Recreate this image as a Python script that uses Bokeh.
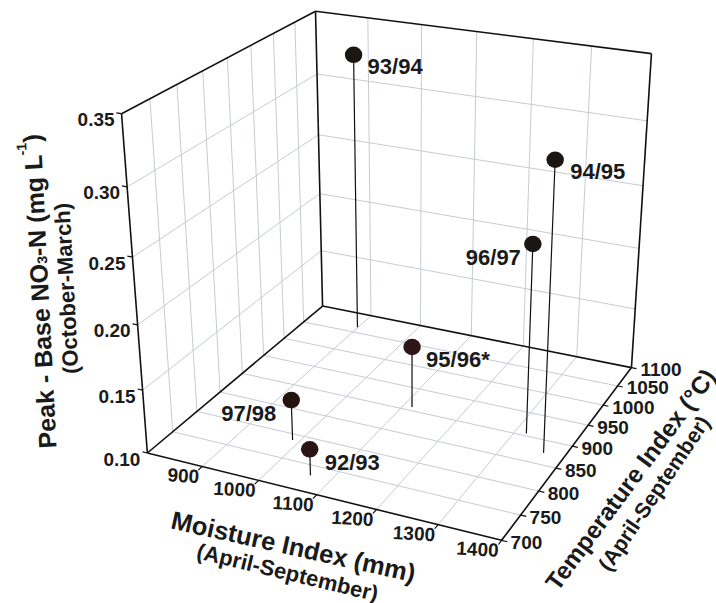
import math
import numpy as np
from bokeh.plotting import figure
from bokeh.models import Range1d
from bokeh.core.properties import value
from bokeh.embed import file_html
from bokeh.resources import INLINE

# ---- data ----
labels = ["92/93", "93/94", "94/95", "95/96*", "96/97", "97/98"]
moisture = [1065, 899, 1366, 1115, 1319, 988]
temperature = [731, 1064, 874, 908, 905, 788]
nitrate = [0.1206, 0.3276, 0.3186, 0.1495, 0.2476, 0.1323]

moisture_ticks = [800, 900, 1000, 1100, 1200, 1300, 1400]
temperature_ticks = [700, 750, 800, 850, 900, 950, 1000, 1050, 1100]
nitrate_ticks = [0.10, 0.15, 0.20, 0.25, 0.30, 0.35]

X0, X1 = 800, 1400
Y0, Y1 = 700, 1100
Z0, Z1 = 0.10, 0.35

# ---- camera: fitted from where the box corners sit in the page ----
calibration = [
    ((X0, Y0, Z0), (147, 453)), ((X1, Y0, Z0), (501, 539.5)),
    ((X1, Y1, Z0), (631, 367.5)), ((X0, Y1, Z0), (322, 305)),
    ((X0, Y0, Z1), (121, 113)), ((X0, Y1, Z1), (315, 11)),
    ((X1, Y1, Z1), (651, 53)),
]


def norm(x, y, z):
    return (np.asarray(x, float) - X0) / (X1 - X0), (np.asarray(y, float) - Y0) / (Y1 - Y0), (np.asarray(z, float) - Z0) / (Z1 - Z0)


A, B = [], []
for (w, (px, py)) in calibration:
    u, v, t = [float(c) for c in norm(*w)]
    A.append([u, v, t, 1, 0, 0, 0, 0, -px * u, -px * v, -px * t]); B.append(px)
    A.append([0, 0, 0, 0, u, v, t, 1, -py * u, -py * v, -py * t]); B.append(py)
m = np.linalg.lstsq(np.array(A), np.array(B), rcond=None)[0]


def project(x, y, z):
    u, v, t = norm(x, y, z)
    d = m[8] * u + m[9] * v + m[10] * t + 1
    return (m[0] * u + m[1] * v + m[2] * t + m[3]) / d, (m[4] * u + m[5] * v + m[6] * t + m[7]) / d


p = figure(width=716, height=603, x_range=Range1d(0, 716), y_range=Range1d(603, 0),
           x_axis_type=None, y_axis_type=None, output_backend="svg", toolbar_location=None,
           min_border=0, outline_line_color=None, background_fill_color="white")
p.grid.visible = False

FONT = value("Liberation Sans")
GRID = "#c6cad3"


def seg(a, b, color, width, dash="solid"):
    xs0, ys0 = project(*zip(*a))
    xs1, ys1 = project(*zip(*b))
    p.segment(xs0, ys0, xs1, ys1, line_color=color, line_width=width, line_dash=dash)


# ---- grid: floor, left wall, back wall ----
inner_m = moisture_ticks[1:-1]
inner_t = temperature_ticks[1:-1]
inner_n = nitrate_ticks[1:-1]
seg([(a, Y0, Z0) for a in inner_m], [(a, Y1, Z0) for a in inner_m], GRID, 1)
seg([(X0, a, Z0) for a in inner_t], [(X1, a, Z0) for a in inner_t], GRID, 1)
seg([(X0, a, Z0) for a in inner_t], [(X0, a, Z1) for a in inner_t], GRID, 1)
seg([(X0, Y0, a) for a in inner_n], [(X0, Y1, a) for a in inner_n], GRID, 1)
seg([(a, Y1, Z0) for a in inner_m], [(a, Y1, Z1) for a in inner_m], GRID, 1)
seg([(X0, Y1, a) for a in inner_n], [(X1, Y1, a) for a in inner_n], GRID, 1)

# ---- box edges ----
edges = [
    ((X0, Y0, Z0), (X0, Y0, Z1)), ((X0, Y0, Z1), (X0, Y1, Z1)), ((X0, Y1, Z1), (X0, Y1, Z0)),
    ((X0, Y1, Z1), (X1, Y1, Z1)), ((X1, Y1, Z1), (X1, Y1, Z0)), ((X0, Y0, Z0), (X0, Y1, Z0)),
    ((X0, Y1, Z0), (X1, Y1, Z0)), ((X0, Y0, Z0), (X1, Y0, Z0)), ((X1, Y0, Z0), (X1, Y1, Z0)),
]
seg([e[0] for e in edges], [e[1] for e in edges], "#111111", 1.6)

# ---- tick marks ----
seg([(a, Y0, Z0) for a in moisture_ticks[1:]], [(a, Y0 - 8, Z0) for a in moisture_ticks[1:]], "#111111", 1.2)
seg([(X1, a, Z0) for a in temperature_ticks], [(X1 + 9, a, Z0) for a in temperature_ticks], "#111111", 1.2)
seg([(X0, Y0, a) for a in nitrate_ticks], [(X0 - 9, Y0, a) for a in nitrate_ticks], "#111111", 1.2)

# ---- tick labels ----
tx, ty = project(moisture_ticks[1:], [Y0] * 6, [Z0] * 6)
p.text(tx, ty, text=[str(a) for a in moisture_ticks[1:]], x_offset=-3, y_offset=10, angle=math.radians(-3),
       text_align="right", text_baseline="middle", text_font=FONT, text_font_style="bold",
       text_font_size="19px", text_color="#1a1a1a")
tx, ty = project([X1] * 9, temperature_ticks, [Z0] * 9)
p.text(tx, ty, text=[str(a) for a in temperature_ticks], x_offset=9, y_offset=2,
       text_align="left", text_baseline="middle", text_font=FONT, text_font_style="bold",
       text_font_size="19px", text_color="#1a1a1a")
tx, ty = project([X0] * 6, [Y0] * 6, nitrate_ticks)
p.text(tx, ty, text=[f"{a:.2f}" for a in nitrate_ticks], x_offset=-7, y_offset=6,
       text_align="right", text_baseline="middle", text_font=FONT, text_font_style="bold",
       text_font_size="19px", text_color="#1a1a1a")

# ---- stems and points ----
bx, by = project(moisture, temperature, [Z0] * 6)
px_, py_ = project(moisture, temperature, nitrate)
p.segment(bx, by, px_, py_, line_color="#111111", line_width=1.2)
p.ellipse(px_, py_, width=17.5, height=16.5,
          fill_color=["#2a1414", "#1c1612", "#1c1612", "#2e1518", "#1c1612", "#24140f"], line_color=None)

# ---- point labels ----
off_x = [15, 14, 15, 14, -12, -15]
off_y = [13, 12, 12, 13, 13, 13]
align = ["left", "left", "left", "left", "right", "right"]
p.text(px_, py_, text=labels, x_offset=off_x, y_offset=off_y, text_align=align, text_baseline="middle",
       text_font=FONT, text_font_style="bold", text_font_size="22px", text_color="#1a1a1a")


# ---- axis titles ----
def title(x, y, s, size, deg):
    p.text([x], [y], text=[s], angle=math.radians(deg), text_align="center", text_baseline="middle",
           text_font=FONT, text_font_style="bold", text_font_size=f"{size}px", text_color="#1a1a1a")


title(293, 546, "Moisture Index (mm)", 25.5, -12.5)
title(287, 572, "(April-September)", 22, -13.5)
title(630, 479, "Temperature Index (\u00b0C)", 24.5, 53.5)
title(654, 493, "(April-September)", 21.5, 56)
title(66, 288, "(October-March)", 22, 93)

# Vertical title with subscript and superscript, laid out along one baseline
parts = [("Peak - Base NO", 25, 7.392, 0), ("3", 14, 0.556, -4), ("-N (mg L", 25, 4.055, 0),
         ("-1", 14, 0.889, 11), (")", 25, 0.333, 0)]
ang = math.radians(92.9)
cx, cy = 47, 448
pos = 0.0
for s, size, em, shift in parts:
    x = cx + pos * math.cos(ang) - shift * math.sin(ang)
    y = cy - pos * math.sin(ang) - shift * math.cos(ang)
    p.text([x], [y], text=[s], angle=ang, text_align="left", text_baseline="alphabetic",
           text_font=FONT, text_font_style="bold", text_font_size=f"{size}px", text_color="#1a1a1a")
    pos += em * size

open("out.html", "w").write(file_html(p, INLINE))
